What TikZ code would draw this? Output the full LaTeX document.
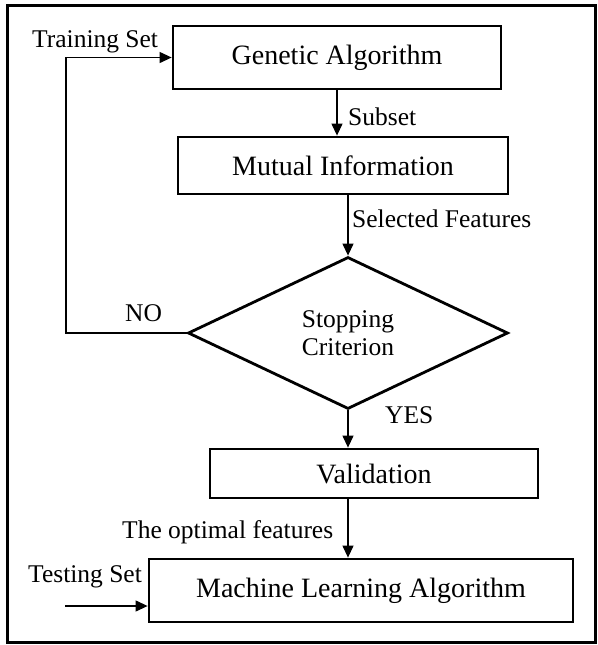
\documentclass[tikz,border=0pt]{standalone}
\usepackage{fontspec}
\setmainfont{Liberation Serif}
\usetikzlibrary{shapes.geometric,arrows.meta}

\begin{document}
\begin{tikzpicture}[x=1pt,y=-1pt,
    blockbox/.style={draw,line width=2.8pt,inner sep=0pt,font=\fontsize{28}{30}\selectfont},
    decide/.style={draw,diamond,line width=2.8pt,inner sep=0pt,align=center,
      minimum width=320pt,minimum height=152pt,font=\fontsize{25.5}{28}\selectfont},
    lbl/.style={anchor=base west,inner sep=0pt,font=\fontsize{25.5}{28}\selectfont},
    arr/.style={line width=1.2pt,-{Triangle[length=12pt,width=11pt]}}]
  \useasboundingbox (0,0) rectangle (597,645);
  \draw[line width=3pt] (7,5) rectangle (595,642);
  % blocks
  \node[blockbox,minimum width=328pt,minimum height=63pt] (ga) at (337,57.5) {Genetic Algorithm};
  \node[blockbox,minimum width=330pt,minimum height=57pt] (mi) at (343,165.5) {Mutual Information};
  \node[decide] (sc) at (348,333) {Stopping\\Criterion};
  \node[blockbox,minimum width=328pt,minimum height=49pt] (val) at (374,473.5) {Validation};
  \node[blockbox,minimum width=424pt,minimum height=63pt] (ml) at (361,590.5) {Machine Learning Algorithm};
  % labels
  \node[lbl] (trn) at (32,47) {Training Set};
  \node[lbl] (sub) at (348,125) {Subset};
  \node[lbl] (sel) at (352,227) {Selected Features};
  \node[lbl] (no) at (125,321) {NO};
  \node[lbl] (yes) at (385,423) {YES};
  \node[lbl] (opt) at (122,538) {The optimal features};
  \node[lbl] (tst) at (28,582) {Testing Set};
  % connectors
  \coordinate (loop) at (66,333);
  \coordinate (tin) at (65,606);
  \draw[arr] (sc.west) -- (loop) |- (ga.west);
  \draw[arr] (ga.south) -- (ga.south |- mi.north);
  \draw[arr] (sc.north |- mi.south) -- (sc.north);
  \draw[arr] (sc.south) -- (sc.south |- val.north);
  \draw[arr] (sc.south |- val.south) -- (sc.south |- ml.north);
  \draw[arr] (tin) -- (tin -| ml.west);
\end{tikzpicture}
\end{document}
